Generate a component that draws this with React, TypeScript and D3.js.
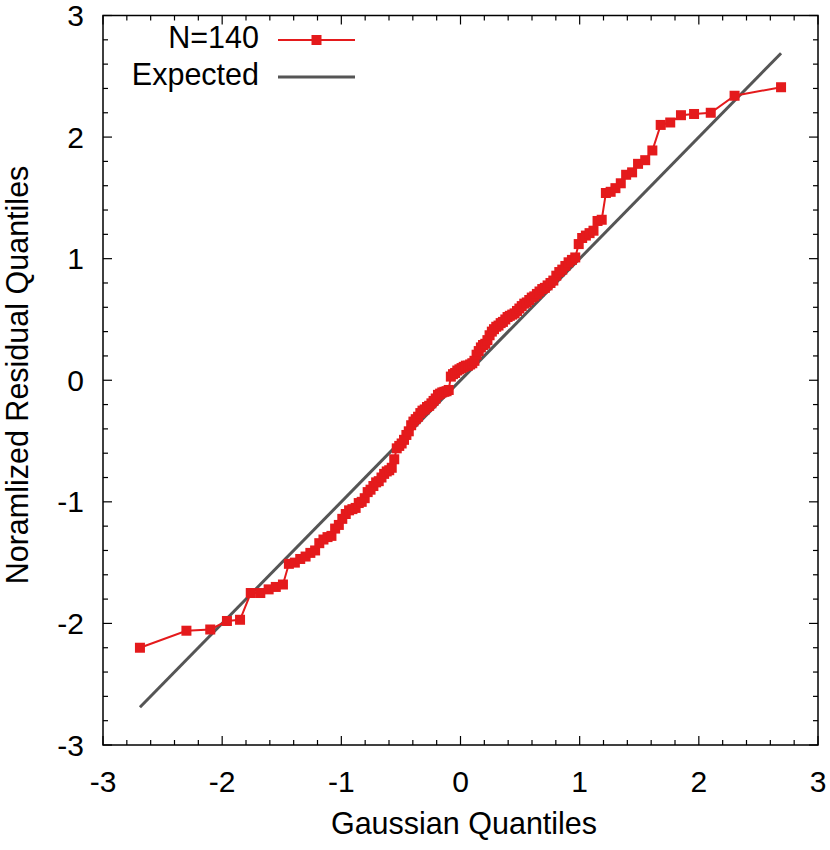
import React from 'react'
import * as d3 from 'd3'

// theoretical gaussian quantiles (x) and normalized residual quantiles (y), N=140
const gaussQ = [
  -2.69, -2.3, -2.1, -1.96, -1.85, -1.76, -1.68, -1.61, -1.55, -1.49,
  -1.44, -1.39, -1.345, -1.3, -1.26, -1.22, -1.185, -1.15, -1.116, -1.083,
  -1.052, -1.021, -0.992, -0.963, -0.935, -0.907, -0.88, -0.854, -0.829, -0.804,
  -0.779, -0.755, -0.731, -0.708, -0.686, -0.663, -0.641, -0.619, -0.598, -0.577,
  -0.556, -0.535, -0.514, -0.494, -0.474, -0.454, -0.434, -0.414, -0.395, -0.376,
  -0.356, -0.337, -0.319, -0.3, -0.281, -0.263, -0.244, -0.226, -0.208, -0.189,
  -0.171, -0.153, -0.135, -0.117, -0.099, -0.081, -0.063, -0.045, -0.027, -0.009,
  0.009, 0.027, 0.045, 0.063, 0.081, 0.099, 0.117, 0.135, 0.153, 0.171,
  0.189, 0.208, 0.226, 0.244, 0.263, 0.281, 0.3, 0.319, 0.337, 0.356,
  0.376, 0.395, 0.414, 0.434, 0.454, 0.474, 0.494, 0.514, 0.535, 0.556,
  0.577, 0.598, 0.619, 0.641, 0.663, 0.686, 0.708, 0.731, 0.755, 0.779,
  0.804, 0.829, 0.854, 0.88, 0.907, 0.935, 0.963, 0.992, 1.021, 1.052,
  1.083, 1.116, 1.15, 1.185, 1.22, 1.26, 1.3, 1.345, 1.39, 1.44,
  1.49, 1.55, 1.61, 1.68, 1.76, 1.85, 1.96, 2.1, 2.3, 2.69,
]

const residQ = [
  -2.2, -2.06, -2.05, -1.98, -1.97, -1.75, -1.75, -1.72, -1.7, -1.68,
  -1.51, -1.5, -1.47, -1.45, -1.42, -1.4, -1.34, -1.31, -1.29, -1.28,
  -1.22, -1.19, -1.14, -1.1, -1.07, -1.06, -1.05, -1.01, -1.0, -0.97,
  -0.92, -0.9, -0.87, -0.84, -0.83, -0.8, -0.77, -0.75, -0.74, -0.72,
  -0.65, -0.56, -0.54, -0.52, -0.49, -0.45, -0.42, -0.37, -0.34, -0.32,
  -0.3, -0.27, -0.25, -0.24, -0.22, -0.21, -0.19, -0.17, -0.15, -0.12,
  -0.11, -0.1, -0.095, -0.09, -0.08, 0.03, 0.05, 0.06, 0.08, 0.09,
  0.1, 0.11, 0.12, 0.12, 0.13, 0.14, 0.16, 0.21, 0.24, 0.27,
  0.29, 0.3, 0.33, 0.37, 0.4, 0.42, 0.44, 0.45, 0.47, 0.48,
  0.5, 0.52, 0.53, 0.54, 0.55, 0.57, 0.59, 0.61, 0.63, 0.64,
  0.66, 0.68, 0.69, 0.71, 0.73, 0.75, 0.76, 0.78, 0.8, 0.82,
  0.86, 0.89, 0.91, 0.94, 0.97, 0.99, 1.01, 1.12, 1.17, 1.19,
  1.21, 1.23, 1.31, 1.32, 1.54, 1.55, 1.58, 1.62, 1.69, 1.71,
  1.78, 1.81, 1.89, 2.1, 2.12, 2.18, 2.19, 2.2, 2.34, 2.41,
]

const majorTicks = [-3, -2, -1, 0, 1, 2, 3]
const expectedEnds = [-2.69, 2.69]

const W = 830
const H = 850
const margin = { left: 103, right: 12, top: 15.5, bottom: 105 }
const RED = '#e41a1c'
const GREY = '#555555'
const FONT = '"Liberation Sans", Arial, Helvetica, sans-serif'

const App = () => {
  const x = d3.scaleLinear().domain([-3, 3]).range([margin.left, W - margin.right])
  const y = d3.scaleLinear().domain([-3, 3]).range([H - margin.bottom, margin.top])
  const [x0, x1] = x.range()
  const [y0, y1] = y.range()

  const minorTicks = d3.range(-3, 3.001, 0.2).filter(
    (t) => Math.abs(t - Math.round(t)) > 1e-6
  )

  const points = gaussQ.map((g, i) => [g, residQ[i]] as [number, number])
  const line = d3
    .line<[number, number]>()
    .x((d) => x(d[0]))
    .y((d) => y(d[1]))

  const sq = 10

  return (
    <svg
      width={W}
      height={H}
      style={{ position: 'absolute', left: 0, top: 0, background: '#fff' }}
      fontFamily={FONT}
    >
      {/* expected line */}
      <line
        x1={x(expectedEnds[0])}
        y1={y(expectedEnds[0])}
        x2={x(expectedEnds[1])}
        y2={y(expectedEnds[1])}
        stroke={GREY}
        strokeWidth={3}
      />

      {/* data */}
      <path d={line(points) ?? ''} fill="none" stroke={RED} strokeWidth={2} />
      {points.map((d, i) => (
        <rect
          key={i}
          x={x(d[0]) - sq / 2}
          y={y(d[1]) - sq / 2}
          width={sq}
          height={sq}
          fill={RED}
        />
      ))}

      {/* frame */}
      <rect
        x={x0}
        y={y1}
        width={x1 - x0}
        height={y0 - y1}
        fill="none"
        stroke="#000"
        strokeWidth={1.5}
      />

      {/* ticks, mirrored on all sides */}
      <g stroke="#000" strokeWidth={1.2}>
        {majorTicks.map((t) => (
          <g key={'M' + t}>
            <line x1={x(t)} x2={x(t)} y1={y0} y2={y0 - 9} />
            <line x1={x(t)} x2={x(t)} y1={y1} y2={y1 + 9} />
            <line x1={x0} x2={x0 + 9} y1={y(t)} y2={y(t)} />
            <line x1={x1} x2={x1 - 9} y1={y(t)} y2={y(t)} />
          </g>
        ))}
        {minorTicks.map((t) => (
          <g key={'m' + t}>
            <line x1={x(t)} x2={x(t)} y1={y0} y2={y0 - 5} />
            <line x1={x(t)} x2={x(t)} y1={y1} y2={y1 + 5} />
            <line x1={x0} x2={x0 + 5} y1={y(t)} y2={y(t)} />
            <line x1={x1} x2={x1 - 5} y1={y(t)} y2={y(t)} />
          </g>
        ))}
      </g>

      {/* tick labels */}
      <g fontSize={30} fill="#000">
        {majorTicks.map((t) => (
          <text key={'xl' + t} x={x(t)} y={792} textAnchor="middle">
            {t}
          </text>
        ))}
        {majorTicks.map((t) => (
          <text key={'yl' + t} x={84} y={y(t) + 10.5} textAnchor="end">
            {t}
          </text>
        ))}
      </g>

      {/* axis titles */}
      <text x={464} y={834} textAnchor="middle" fontSize={30.5}>
        Gaussian Quantiles
      </text>
      <text
        transform={`translate(28, 375) rotate(-90)`}
        textAnchor="middle"
        fontSize={30.5}
      >
        Noramlized Residual Quantiles
      </text>

      {/* legend */}
      <g fontSize={30.5}>
        <text x={259} y={48} textAnchor="end">
          N=140
        </text>
        <line x1={278} x2={355} y1={40} y2={40} stroke={RED} strokeWidth={2} />
        <rect x={316.5 - sq / 2} y={40 - sq / 2} width={sq} height={sq} fill={RED} />
        <text x={259} y={85} textAnchor="end">
          Expected
        </text>
        <line x1={278} x2={355} y1={77} y2={77} stroke={GREY} strokeWidth={3} />
      </g>
    </svg>
  )
}

export default App
